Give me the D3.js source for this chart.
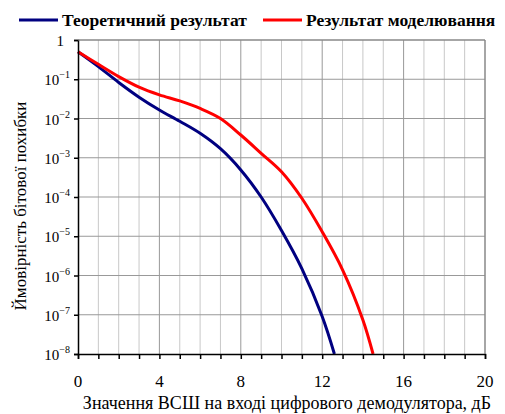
<!DOCTYPE html>
<html>
<head>
<meta charset="utf-8">
<script src="https://cdn.jsdelivr.net/npm/d3@7"></script>
<style>
  body { margin: 0; background: #fff; }
</style>
</head>
<body>
<svg id="chart" width="505" height="414"></svg>
<script>
// data
const snrTheory = [0, 1, 2, 3, 4, 5, 6, 7, 8, 9, 10, 11, 12, 12.6];
const berTheory = [0.5, 0.21, 0.083, 0.035, 0.0165, 0.0085, 0.0042, 0.0017, 4.9e-4, 1.0e-4, 1.4e-5, 1.5e-6, 9e-8, 1e-8];
const snrModel = [0, 1, 2, 3, 4, 5, 6, 7, 8, 9, 10, 11, 12, 13, 14, 14.5];
const berModel = [0.5, 0.24, 0.117, 0.063, 0.04, 0.028, 0.018, 0.01, 0.0038, 0.0013, 4.4e-4, 9.3e-5, 1.3e-5, 1.4e-6, 7.4e-8, 1e-8];
const xTickLabels = [0, 4, 8, 12, 16, 20];
const yDecades = [0, -1, -2, -3, -4, -5, -6, -7, -8];
const seriesNames = ["Теоретичний результат", "Результат моделювання"];
const seriesColors = ["#000080", "#ff0000"];

const FONT = "'Liberation Serif', 'Liberation Sans', sans-serif";

const margin = {left: 78, right: 20, top: 40, bottom: 60};
const width = 505, height = 414;

const svg = d3.select("#chart");

const x = d3.scaleLinear().domain([0, 20]).range([margin.left, width - margin.right]);
const y = d3.scaleLog().domain([1e-8, 1]).range([height - margin.bottom, margin.top]);

/**
 * GRID
 */
const grid = svg.append("g");
grid.selectAll("line.v")
  .data(d3.range(1, 21))
  .enter().append("line")
  .attr("x1", d => x(d)).attr("x2", d => x(d))
  .attr("y1", y(1)).attr("y2", y(1e-8))
  .attr("stroke", d => d % 4 === 0 ? "#999" : "#c8c8c8")
  .attr("stroke-width", 1);

grid.selectAll("line.h")
  .data(yDecades.slice(0, -1))
  .enter().append("line")
  .attr("x1", x(0)).attr("x2", x(20))
  .attr("y1", d => y(Math.pow(10, d))).attr("y2", d => y(Math.pow(10, d)))
  .attr("stroke", "#999")
  .attr("stroke-width", 1);

/**
 * LINES
 */
const line = d3.line()
  .x(d => x(d[0]))
  .y(d => y(d[1]))
  .curve(d3.curveCatmullRom.alpha(0.5));

const series = [
  d3.zip(snrTheory, berTheory),
  d3.zip(snrModel, berModel)
];

svg.append("g")
  .selectAll("path")
  .data(series)
  .enter().append("path")
  .attr("d", line)
  .attr("fill", "none")
  .attr("stroke", (d, i) => seriesColors[i])
  .attr("stroke-width", 3);

/**
 * AXES
 */
const xAxis = d3.axisBottom(x)
  .tickValues(d3.range(0, 21))
  .tickSize(5)
  .tickFormat("");

svg.append("g")
  .attr("transform", `translate(0,${y(1e-8)})`)
  .call(xAxis)
  .call(g => g.select(".domain").attr("stroke", "#000").attr("stroke-width", 1.5))
  .call(g => g.selectAll(".tick line").attr("stroke", "#000").attr("stroke-width", 1.5));

svg.append("g")
  .selectAll("text")
  .data(xTickLabels)
  .enter().append("text")
  .attr("x", d => x(d))
  .attr("y", 387)
  .attr("text-anchor", "middle")
  .style("font-family", FONT)
  .style("font-size", "17px")
  .text(d => d);

const yAxis = d3.axisLeft(y)
  .tickValues(yDecades.map(d => Math.pow(10, d)))
  .tickSize(4)
  .tickFormat("");

svg.append("g")
  .attr("transform", `translate(${x(0)},0)`)
  .call(yAxis)
  .call(g => g.select(".domain").attr("stroke", "#000").attr("stroke-width", 1.5))
  .call(g => g.selectAll(".tick line").attr("stroke", "#000").attr("stroke-width", 1.5));

// top and right border
svg.append("line")
  .attr("x1", x(0)).attr("x2", x(20)).attr("y1", y(1)).attr("y2", y(1))
  .attr("stroke", "#808080");
svg.append("line")
  .attr("x1", x(20)).attr("x2", x(20)).attr("y1", y(1)).attr("y2", y(1e-8))
  .attr("stroke", "#808080");

const yLabels = svg.append("g")
  .selectAll("text")
  .data(yDecades)
  .enter().append("text")
  .attr("x", d => d === 0 ? 64 : 70)
  .attr("y", d => y(Math.pow(10, d)) + 6)
  .attr("text-anchor", "end")
  .style("font-family", FONT)
  .style("font-size", "15px");

yLabels.each(function(d) {
  const t = d3.select(this);
  if (d === 0) {
    t.text("1");
  } else {
    t.append("tspan").text("10");
    t.append("tspan").attr("dy", -7).style("font-size", "10px").text("\u2212" + (-d));
  }
});

/**
 * TITLES
 */
svg.append("text")
  .attr("x", 287)
  .attr("y", 409)
  .attr("text-anchor", "middle")
  .style("font-family", FONT)
  .style("font-size", "18px")
  .text("Значення ВСШ на вході цифрового демодулятора, дБ");

svg.append("text")
  .attr("transform", "translate(26,206) rotate(-90)")
  .attr("text-anchor", "middle")
  .style("font-family", FONT)
  .style("font-size", "17px")
  .text("Ймовірність бітової похибки");

/**
 * LEGEND
 */
const legendX = [19, 263];
const legend = svg.append("g")
  .selectAll("g")
  .data(seriesNames)
  .enter().append("g")
  .attr("transform", (d, i) => `translate(${legendX[i]},20)`);

legend.append("line")
  .attr("x1", 0).attr("x2", 39)
  .attr("stroke", (d, i) => seriesColors[i])
  .attr("stroke-width", 3);

legend.append("text")
  .attr("x", 43)
  .attr("y", 6)
  .style("font-family", FONT)
  .style("font-size", "17.5px")
  .style("font-weight", "bold")
  .text(d => d);
</script>
</body>
</html>
